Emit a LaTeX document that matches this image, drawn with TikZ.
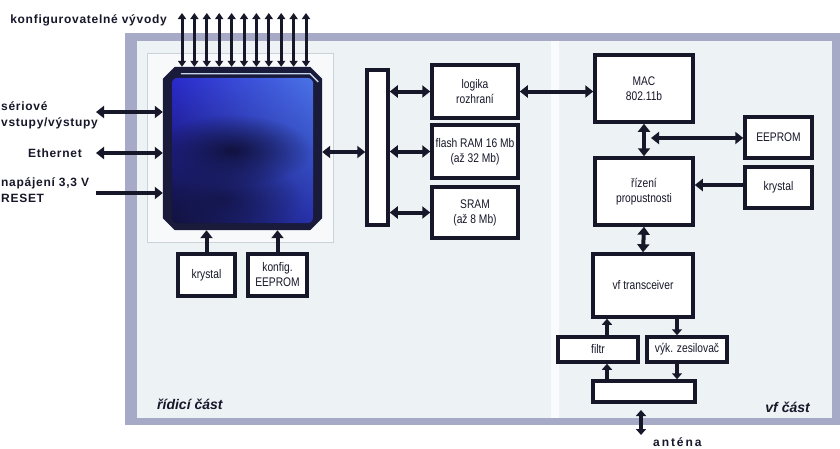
\documentclass[tikz,border=0pt]{standalone}
\usepackage{fontspec}
\setmainfont{Liberation Sans}
\newfontfamily\boxfont[FakeStretch=0.82]{Liberation Sans}
\newfontfamily\lblfont[LetterSpace=6]{Liberation Sans}
\newfontfamily\widefont[LetterSpace=16]{Liberation Sans}
\usetikzlibrary{arrows.meta,calc,fadings,shadings}
\tikzfading[name=softfade, inner color=transparent!0, outer color=transparent!100]
\definecolor{ink}{HTML}{17172A}
\definecolor{chipink}{HTML}{1A1A3A}
\definecolor{band}{HTML}{A7AAC6}
\definecolor{panel}{HTML}{EDF3F5}
\definecolor{chipbg}{HTML}{F7F9FA}
\definecolor{chipedge}{HTML}{CBD3DA}
\definecolor{chipUL}{HTML}{2A2ACC}
\definecolor{chipUR}{HTML}{4A72E6}
\definecolor{chipLL}{HTML}{131340}
\definecolor{chipLR}{HTML}{2630A8}
\definecolor{chipsmear}{HTML}{0E0E34}
\definecolor{chiphi}{HTML}{C4D6EE}
\begin{document}
\begin{tikzpicture}[x=1pt,y=-1pt,
  box/.style={draw=ink, line width=3.5pt, fill=white, inner sep=1pt, align=center,
    font=\boxfont\fontsize{12.5}{15}\selectfont, text=ink},
  dbl/.style={draw=ink, line width=4pt, {Triangle[length=8pt,width=12pt]}-{Triangle[length=8pt,width=12pt]}},
  uni/.style={draw=ink, line width=4pt, -{Triangle[length=8pt,width=12pt]}},
  smalluni/.style={draw=ink, line width=3.5pt, -{Triangle[length=6pt,width=10pt]}},
  smalldbl/.style={draw=ink, line width=3.5pt, {Triangle[length=6pt,width=10pt]}-{Triangle[length=6pt,width=10pt]}},
  pin/.style={draw=ink, line width=3pt, {Triangle[length=6pt,width=8pt]}-{Triangle[length=6pt,width=8pt]}},
  lbl/.style={inner sep=0pt, font=\lblfont\bfseries\fontsize{12}{16}\selectfont, text=ink},
  part/.style={inner sep=0pt, font=\bfseries\itshape\fontsize{14}{16}\selectfont, text=ink}
]
\useasboundingbox (0,0) rectangle (840,448);
\clip (0,0) rectangle (840,448);
\fill[white] (0,0) rectangle (840,448);

% frame and panels
\fill[band] (125,33) rectangle (840,425);
\fill[panel] (137,41) rectangle (832,418);
\fill[white!70!panel] (551,41) rectangle (559,418);

% chip background
\fill[chipbg] (147,53) rectangle (333,242);
\draw[chipedge, line width=1pt] (147,53) rectangle (333,242);

% chip
\node[minimum width=159pt, minimum height=163pt, inner sep=0pt] (chip) at (242.5,148.5) {};
\fill[chipink]
  ($(chip.north west)+(12,0)$) -- ($(chip.north east)+(-12,0)$) -- ($(chip.north east)+(0,12)$)
  -- ($(chip.south east)+(0,-12)$) -- ($(chip.south east)+(-12,0)$) -- ($(chip.south west)+(12,0)$)
  -- ($(chip.south west)+(0,-12)$) -- ($(chip.north west)+(0,12)$) -- cycle;
\begin{scope}
\clip[rounded corners=6pt] ($(chip.north west)+(9,11)$) rectangle ($(chip.south east)+(-9,-7)$);
\shade[upper left=chipUL, upper right=chipUR, lower left=chipLL, lower right=chipLR]
  ($(chip.north west)+(9,11)$) rectangle ($(chip.south east)+(-9,-7)$);
\fill[chipsmear, opacity=0.9, path fading=softfade]
  ($(chip.center)+(-10,2)$) ellipse [x radius=80pt, y radius=36pt];
\fill[chipsmear, opacity=0.6, path fading=softfade]
  ($(chip.center)+(-20,50)$) ellipse [x radius=80pt, y radius=40pt];
\end{scope}
\draw[chiphi, line width=1.3pt]
  ($(chip.north west)+(18,7)$) -- ($(chip.north east)+(-12,7)$) -- ($(chip.north east)+(-4,15)$);

% pins
\foreach \i in {0,...,10} {
  \coordinate (pin\i) at ({182+12.4*\i},13);
  \draw[pin] (pin\i) -- (pin\i |- chip.north);
}

% left side
\coordinate (serEnd) at (96,112);
\coordinate (ethEnd) at (96,153);
\coordinate (pwrEnd) at (96,193);
\draw[dbl] (serEnd) -- (serEnd -| chip.west);
\draw[dbl] (ethEnd) -- (ethEnd -| chip.west);
\draw[uni] (pwrEnd) -- (pwrEnd -| chip.west);

\node[lbl, anchor=east] (konfL) at (167,20) {konfigurovatelné vývody};
\node[lbl, anchor=west, align=left] (serL) at (1,115) {sériové\\vstupy/výstupy};
\node[lbl, anchor=east] (ethL) at (82,153) {Ethernet};
\node[lbl, anchor=west, align=left] (pwrL) at (1,190) {napájení 3,3 V\\RESET};

% bottom-left boxes
\node[box, minimum width=57pt, minimum height=42pt] (krysL) at (206.5,275) {krystal};
\node[box, minimum width=59pt, minimum height=42pt] (konfE) at (277.5,275) {konfig.\\EEPROM};
\draw[uni] (krysL.north) -- (krysL.north |- chip.south);
\draw[uni] (konfE.north) -- (konfE.north |- chip.south);

% bus bar
\node[draw=ink, line width=3.5pt, fill=white, minimum width=21pt, minimum height=155pt, inner sep=0pt] (bar) at (377.5,147.5) {};
\coordinate (busY) at (0,152);
\draw[dbl] (chip.east |- busY) -- (bar.west |- busY);

% memory column
\node[box, minimum width=86pt, minimum height=53pt] (logika) at (475,91.5) {logika\\rozhraní};
\node[box, minimum width=86pt, minimum height=53pt] (flash) at (475,151.5) {flash RAM 16 Mb\\(až 32 Mb)};
\node[box, minimum width=86pt, minimum height=51pt] (sram) at (475,212.5) {SRAM\\(až 8 Mb)};
\draw[dbl] (bar.east |- logika) -- (logika.west);
\draw[dbl] (bar.east |- flash) -- (flash.west);
\draw[dbl] (bar.east |- sram) -- (sram.west);

% RF part
\node[box, minimum width=98pt, minimum height=67pt] (mac) at (644,88.5) {MAC\\802.11b};
\node[box, minimum width=98pt, minimum height=67pt] (rizeni) at (644,191.5) {řízení\\propustnosti};
\node[box, minimum width=67pt, minimum height=41pt] (eeprom) at (778.5,137.5) {EEPROM};
\node[box, minimum width=67pt, minimum height=41pt] (krysR) at (778.5,187.5) {krystal};
\node[box, minimum width=100pt, minimum height=63pt] (trx) at (643,285.5) {vf transceiver};
\node[box, minimum width=80pt, minimum height=25pt] (filtr) at (598,349.5) {filtr};
\node[box, minimum width=80pt, minimum height=25pt] (vyk) at (687,349.5) {výk. zesilovač};
\node[box, minimum width=102pt, minimum height=21pt] (sw) at (644,391.5) {};

\draw[dbl] (logika.east) -- (logika.east -| mac.west);
\draw[dbl] (mac.south) -- (rizeni.north);
\coordinate (busE) at (651,138);
\draw[dbl] (busE) -- (eeprom.west |- busE);
\coordinate (krysY) at (0,185);
\draw[uni] (krysR.west |- krysY) -- (rizeni.east |- krysY);
\draw[dbl] (rizeni.south) -- (trx.north);

\coordinate (colL) at (607,0);
\coordinate (colR) at (677,0);
\draw[smalluni] (filtr.north -| colL) -- (trx.south -| colL);
\draw[smalluni] (trx.south -| colR) -- (vyk.north -| colR);
\draw[smalluni] (sw.north -| colL) -- (filtr.south -| colL);
\draw[smalluni] (vyk.south -| colR) -- (sw.north -| colR);

\coordinate (antA) at (641,410);
\coordinate (antB) at (641,435);
\draw[smalldbl] (antA) -- (antB);

% labels
\node[part, anchor=west] (ctrlL) at (157,404) {řídicí část};
\node[part, anchor=east] (rfL) at (810,407) {vf část};
\node[inner sep=0pt, font=\widefont\bfseries\fontsize{12}{14}\selectfont, text=ink, anchor=west] (antL) at (653,442) {anténa};
\end{tikzpicture}
\end{document}
